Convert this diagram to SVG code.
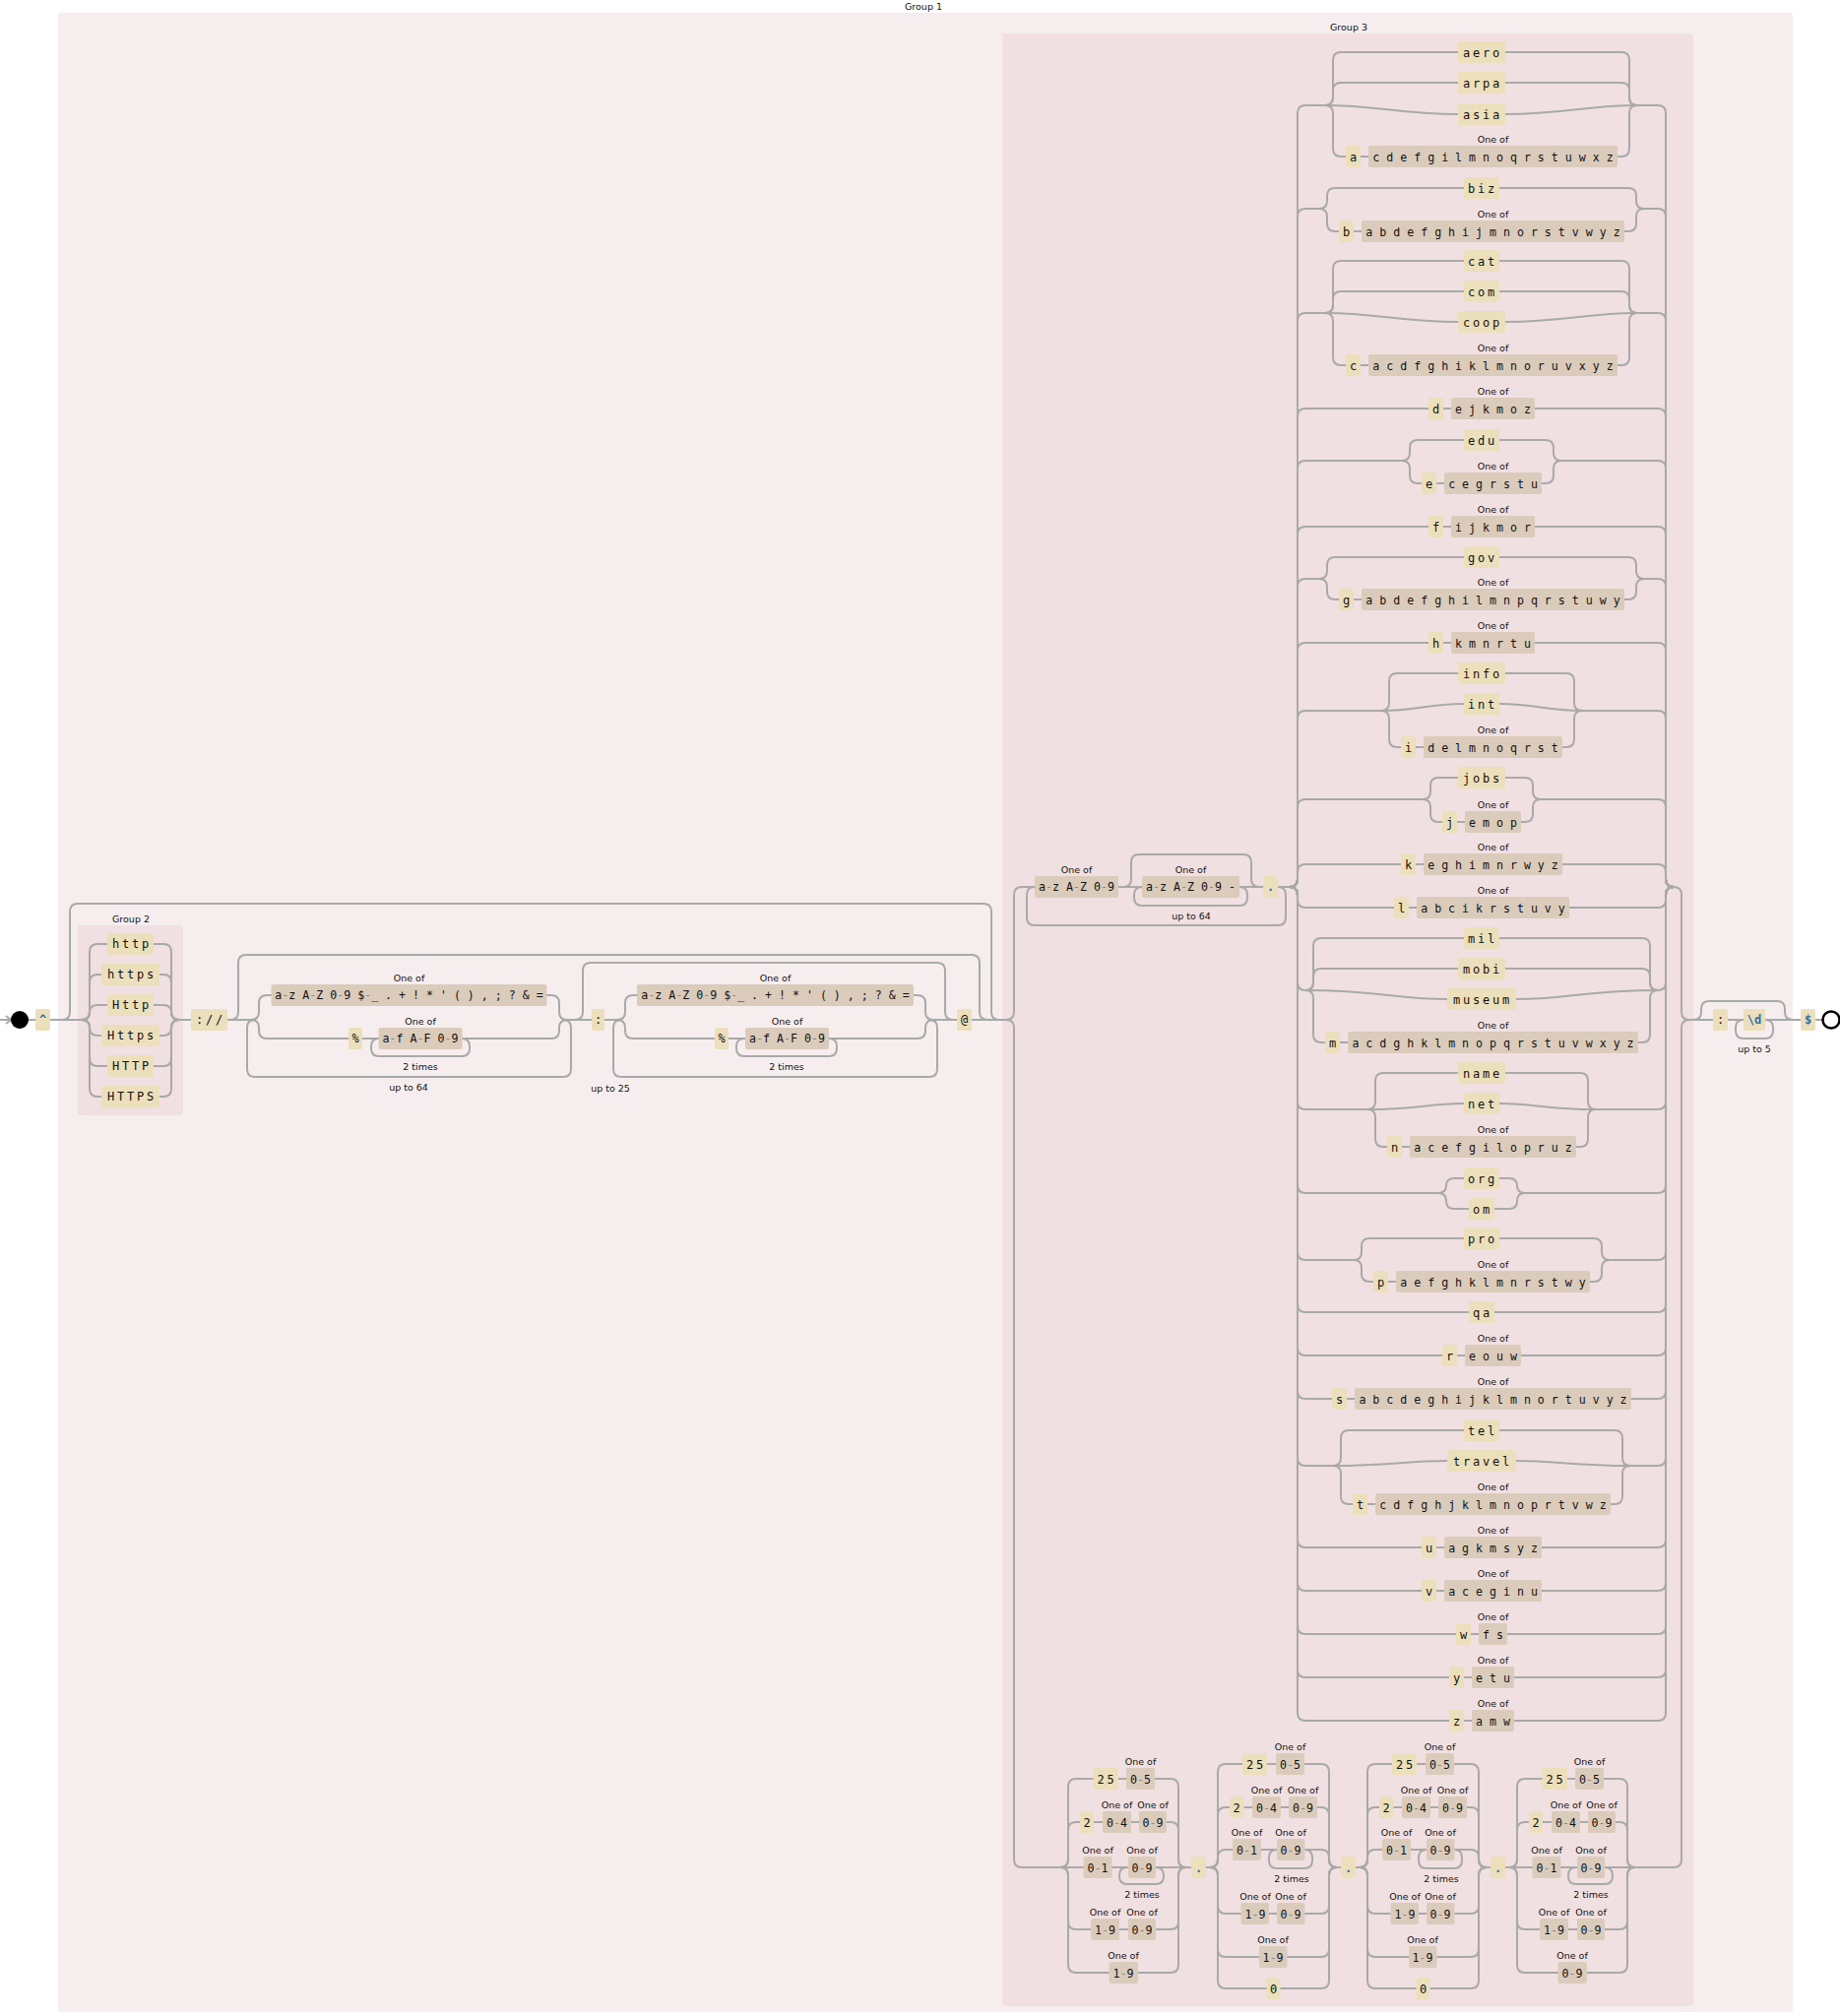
<svg xmlns="http://www.w3.org/2000/svg" width="1869" height="2048" viewBox="0 0 1869 2048">
<style>
.w{fill:none;stroke:#a9a9a9;stroke-width:2}
.L{fill:#ecdfbb}
.C{fill:#dbcbbb}
text{font-family:"DejaVu Sans Mono","Liberation Mono",monospace;font-size:12px;fill:#111;text-anchor:middle}
.tl{letter-spacing:2.8px}
.tc{font-size:11.6px}
.h{fill:#888}
.b{fill:#2b6ea8;font-weight:bold}
.lb{font-family:"DejaVu Sans","Liberation Sans",sans-serif;font-size:9.5px}
</style>
<g id="panels">
<rect x="59" y="13" width="1762" height="2031" rx="3" fill="#f6eeee"/>
<text class="lb" x="938" y="10">Group 1</text>
<rect x="79" y="940" width="107" height="193" rx="3" fill="#f1e0e1"/>
<text class="lb" x="133" y="937">Group 2</text>
<rect x="1018" y="34" width="702" height="2004" rx="3" fill="#f1e0e1"/>
<text class="lb" x="1370" y="31">Group 3</text>
</g>
<g id="connectors" class="w">
<path d="M0 1036H11M6 1032L11 1036L6 1040"/>
<path d="M29 1036H36M51 1036H83M51 1036H63Q71 1036 71 1028V926Q71 918 79 918H999Q1007 918 1007 926V1028Q1007 1036 1015 1036H1022"/>
<path d="M83 1036Q91 1036 91 1028V967Q91 959 99 959H166Q174 959 174 967V1028Q174 1036 182 1036"/>
<path d="M83 1036Q91 1036 91 1028V998Q91 990 99 990H166Q174 990 174 998V1028Q174 1036 182 1036"/>
<path d="M83 1036Q91 1036 91 1028.5Q91 1021 99 1021H166Q174 1021 174 1028.5Q174 1036 182 1036"/>
<path d="M83 1036Q91 1036 91 1043.5Q91 1052 99 1052H166Q174 1052 174 1043.5Q174 1036 182 1036"/>
<path d="M83 1036Q91 1036 91 1044V1075Q91 1083 99 1083H166Q174 1083 174 1075V1044Q174 1036 182 1036"/>
<path d="M83 1036Q91 1036 91 1044V1106Q91 1114 99 1114H166Q174 1114 174 1106V1044Q174 1036 182 1036"/>
<path d="M182 1036H194M231 1036H255M231 1036H234Q242 1036 242 1028V978Q242 970 250 970H987Q995 970 995 978V1028Q995 1036 1003 1036"/>
<path d="M572 1036Q580 1036 580 1044V1086Q580 1094 572 1094H259Q251 1094 251 1086V1044Q251 1036 259 1036"/>
<path d="M255 1036Q263 1036 263 1028V1019Q263 1011 271 1011H560Q568 1011 568 1019V1028Q568 1036 576 1036"/>
<path d="M255 1036Q263 1036 263 1044V1047Q263 1055 271 1055H560Q568 1055 568 1047V1044Q568 1036 576 1036"/>
<path d="M469 1055Q477 1055 477 1063V1065Q477 1073 469 1073H385Q377 1073 377 1065V1063Q377 1055 385 1055"/>
<path d="M576 1036H601M576 1036H584Q592 1036 592 1028V986Q592 978 600 978H952Q960 978 960 986V1028Q960 1036 968 1036"/>
<path d="M614 1036H627M944 1036Q952 1036 952 1044V1086Q952 1094 944 1094H631Q623 1094 623 1086V1044Q623 1036 631 1036"/>
<path d="M627 1036Q635 1036 635 1028V1019Q635 1011 643 1011H932Q940 1011 940 1019V1028Q940 1036 948 1036"/>
<path d="M627 1036Q635 1036 635 1044V1047Q635 1055 643 1055H932Q940 1055 940 1047V1044Q940 1036 948 1036"/>
<path d="M842 1055Q850 1055 850 1063V1065Q850 1073 842 1073H756Q748 1073 748 1065V1063Q748 1055 756 1055"/>
<path d="M948 1036H972M987 1036H1022"/>
<path d="M1022 1036Q1030 1036 1030 1028V909Q1030 901 1038 901H1051M1136 901H1160M1259 901H1283M1298 901H1310"/>
<path d="M1141 901Q1149 901 1149 893V876Q1149 868 1157 868H1263Q1271 868 1271 876V893Q1271 901 1279 901"/>
<path d="M1259 901Q1267 901 1267 909V912Q1267 920 1259 920H1160Q1152 920 1152 912V909Q1152 901 1160 901"/>
<path d="M1298 901Q1306 901 1306 909V932Q1306 940 1298 940H1051Q1043 940 1043 932V909Q1043 901 1051 901"/>
<path d="M1700 901Q1708 901 1708 909V1028Q1708 1036 1716 1036"/>
<path d="M1022 1036Q1030 1036 1030 1044V1889Q1030 1897 1038 1897H1077"/>
<path d="M1661 1897H1700Q1708 1897 1708 1889V1044Q1708 1036 1716 1036"/>
<path d="M1716 1036H1740M1755 1036H1771M1793 1036H1829M1844 1036H1851"/>
<path d="M1720 1036Q1728 1036 1728 1028V1025Q1728 1017 1736 1017H1805Q1813 1017 1813 1025V1028Q1813 1036 1821 1036"/>
<path d="M1793 1036Q1801 1036 1801 1044V1047Q1801 1055 1793 1055H1771Q1763 1055 1763 1047V1044Q1763 1036 1771 1036"/>
<!-- TLD main rails -->
<path d="M1310 901Q1318 901 1318 893V115Q1318 107 1326 107H1346M1663 107H1684Q1692 107 1692 115V893Q1692 901 1700 901"/>
<path d="M1310 901Q1318 901 1318 893V220Q1318 212 1326 212H1340M1670 212H1684Q1692 212 1692 220V893Q1692 901 1700 901"/>
<path d="M1310 901Q1318 901 1318 893V326Q1318 318 1326 318H1346M1663 318H1684Q1692 318 1692 326V893Q1692 901 1700 901"/>
<path d="M1310 901Q1318 901 1318 893V423Q1318 415 1326 415H1684Q1692 415 1692 423V893Q1692 901 1700 901"/>
<path d="M1310 901Q1318 901 1318 893V476Q1318 468 1326 468H1424M1586 468H1684Q1692 468 1692 476V893Q1692 901 1700 901"/>
<path d="M1310 901Q1318 901 1318 893V543Q1318 535 1326 535H1684Q1692 535 1692 543V893Q1692 901 1700 901"/>
<path d="M1310 901Q1318 901 1318 893V596Q1318 588 1326 588H1340M1670 588H1684Q1692 588 1692 596V893Q1692 901 1700 901"/>
<path d="M1310 901Q1318 901 1318 893V661Q1318 653 1326 653H1684Q1692 653 1692 661V893Q1692 901 1700 901"/>
<path d="M1310 901Q1318 901 1318 893V730Q1318 722 1326 722H1403M1607 722H1684Q1692 722 1692 730V893Q1692 901 1700 901"/>
<path d="M1310 901Q1318 901 1318 893V820Q1318 812 1326 812H1445M1565 812H1684Q1692 812 1692 820V893Q1692 901 1700 901"/>
<path d="M1310 901Q1318 901 1318 893V886Q1318 878 1326 878H1684Q1692 878 1692 886V893Q1692 901 1700 901"/>
<path d="M1310 901Q1318 901 1318 909V914Q1318 922 1326 922H1684Q1692 922 1692 914V909Q1692 901 1700 901"/>
<path d="M1310 901Q1318 901 1318 909V998Q1318 1006 1326 1006M1684 1006Q1692 1006 1692 998V909Q1692 901 1700 901"/>
<path d="M1310 901Q1318 901 1318 909V1119Q1318 1127 1326 1127H1389M1621 1127H1684Q1692 1127 1692 1119V909Q1692 901 1700 901"/>
<path d="M1310 901Q1318 901 1318 909V1204Q1318 1212 1326 1212H1461M1549 1212H1684Q1692 1212 1692 1204V909Q1692 901 1700 901"/>
<path d="M1310 901Q1318 901 1318 909V1272Q1318 1280 1326 1280H1375M1635 1280H1684Q1692 1280 1692 1272V909Q1692 901 1700 901"/>
<path d="M1310 901Q1318 901 1318 909V1325Q1318 1333 1326 1333H1684Q1692 1333 1692 1325V909Q1692 901 1700 901"/>
<path d="M1310 901Q1318 901 1318 909V1369Q1318 1377 1326 1377H1684Q1692 1377 1692 1369V909Q1692 901 1700 901"/>
<path d="M1310 901Q1318 901 1318 909V1413Q1318 1421 1326 1421H1684Q1692 1421 1692 1413V909Q1692 901 1700 901"/>
<path d="M1310 901Q1318 901 1318 909V1481Q1318 1489 1326 1489H1354M1656 1489H1684Q1692 1489 1692 1481V909Q1692 901 1700 901"/>
<path d="M1310 901Q1318 901 1318 909V1564Q1318 1572 1326 1572H1684Q1692 1572 1692 1564V909Q1692 901 1700 901"/>
<path d="M1310 901Q1318 901 1318 909V1608Q1318 1616 1326 1616H1684Q1692 1616 1692 1608V909Q1692 901 1700 901"/>
<path d="M1310 901Q1318 901 1318 909V1652Q1318 1660 1326 1660H1684Q1692 1660 1692 1652V909Q1692 901 1700 901"/>
<path d="M1310 901Q1318 901 1318 909V1696Q1318 1704 1326 1704H1684Q1692 1704 1692 1696V909Q1692 901 1700 901"/>
<path d="M1310 901Q1318 901 1318 909V1740Q1318 1748 1326 1748H1684Q1692 1748 1692 1740V909Q1692 901 1700 901"/>
<!-- TLD sub groups -->
<path d="M1346 107Q1354 107 1354 99V61Q1354 53 1362 53H1647Q1655 53 1655 61V99Q1655 107 1663 107"/>
<path d="M1346 107Q1354 107 1354 99V92Q1354 84 1362 84H1647Q1655 84 1655 92V99Q1655 107 1663 107"/>
<path d="M1346 107C1400 107 1420 116 1481 116H1529C1590 116 1610 107 1663 107"/>
<path d="M1346 107Q1354 107 1354 115V151Q1354 159 1362 159H1647Q1655 159 1655 151V115Q1655 107 1663 107"/>
<path d="M1340 212Q1348 212 1348 204V199Q1348 191 1356 191H1654Q1662 191 1662 199V204Q1662 212 1670 212"/>
<path d="M1340 212Q1348 212 1348 220V227Q1348 235 1356 235H1654Q1662 235 1662 227V220Q1662 212 1670 212"/>
<path d="M1346 318Q1354 318 1354 310V273Q1354 265 1362 265H1647Q1655 265 1655 273V310Q1655 318 1663 318"/>
<path d="M1346 318Q1354 318 1354 310V304Q1354 296 1362 296H1647Q1655 296 1655 304V310Q1655 318 1663 318"/>
<path d="M1346 318C1400 318 1420 327 1481 327H1529C1590 327 1610 318 1663 318"/>
<path d="M1346 318Q1354 318 1354 326V363Q1354 371 1362 371H1647Q1655 371 1655 363V326Q1655 318 1663 318"/>
<path d="M1424 468Q1432 468 1432 460V455Q1432 447 1440 447H1570Q1578 447 1578 455V460Q1578 468 1586 468"/>
<path d="M1424 468Q1432 468 1432 476V483Q1432 491 1440 491H1570Q1578 491 1578 483V476Q1578 468 1586 468"/>
<path d="M1340 588Q1348 588 1348 580V574Q1348 566 1356 566H1654Q1662 566 1662 574V580Q1662 588 1670 588"/>
<path d="M1340 588Q1348 588 1348 596V601Q1348 609 1356 609H1654Q1662 609 1662 601V596Q1662 588 1670 588"/>
<path d="M1403 722Q1411 722 1411 714V692Q1411 684 1419 684H1591Q1599 684 1599 692V714Q1599 722 1607 722"/>
<path d="M1403 722C1440 722 1450 715 1487 715H1523C1560 715 1570 722 1607 722"/>
<path d="M1403 722Q1411 722 1411 730V751Q1411 759 1419 759H1591Q1599 759 1599 751V730Q1599 722 1607 722"/>
<path d="M1445 812Q1453 812 1453 804V798Q1453 790 1461 790H1549Q1557 790 1557 798V804Q1557 812 1565 812"/>
<path d="M1445 812Q1453 812 1453 820V827Q1453 835 1461 835H1549Q1557 835 1557 827V820Q1557 812 1565 812"/>
<path d="M1326 1006Q1334 1006 1334 998V961Q1334 953 1342 953H1668Q1676 953 1676 961V998Q1676 1006 1684 1006"/>
<path d="M1326 1006Q1334 1006 1334 998V992Q1334 984 1342 984H1668Q1676 984 1676 992V998Q1676 1006 1684 1006"/>
<path d="M1326 1006C1400 1006 1420 1015 1470 1015H1540C1590 1015 1610 1006 1684 1006"/>
<path d="M1326 1006Q1334 1006 1334 1014V1051Q1334 1059 1342 1059H1668Q1676 1059 1676 1051V1014Q1676 1006 1684 1006"/>
<path d="M1389 1127Q1397 1127 1397 1119V1098Q1397 1090 1405 1090H1605Q1613 1090 1613 1098V1119Q1613 1127 1621 1127"/>
<path d="M1389 1127C1440 1127 1450 1121 1487 1121H1523C1560 1121 1570 1127 1621 1127"/>
<path d="M1389 1127Q1397 1127 1397 1135V1157Q1397 1165 1405 1165H1605Q1613 1165 1613 1157V1135Q1613 1127 1621 1127"/>
<path d="M1461 1212Q1469 1212 1469 1204.5Q1469 1197 1477 1197H1533Q1541 1197 1541 1204.5Q1541 1212 1549 1212"/>
<path d="M1461 1212Q1469 1212 1469 1220Q1469 1228 1477 1228H1533Q1541 1228 1541 1220Q1541 1212 1549 1212"/>
<path d="M1375 1280Q1383 1280 1383 1272V1266Q1383 1258 1391 1258H1619Q1627 1258 1627 1266V1272Q1627 1280 1635 1280"/>
<path d="M1375 1280Q1383 1280 1383 1288V1294Q1383 1302 1391 1302H1619Q1627 1302 1627 1294V1288Q1627 1280 1635 1280"/>
<path d="M1354 1489Q1362 1489 1362 1481V1461Q1362 1453 1370 1453H1640Q1648 1453 1648 1461V1481Q1648 1489 1656 1489"/>
<path d="M1354 1489C1410 1489 1430 1484 1470 1484H1540C1580 1484 1600 1489 1656 1489"/>
<path d="M1354 1489Q1362 1489 1362 1497V1520Q1362 1528 1370 1528H1640Q1648 1528 1648 1520V1497Q1648 1489 1656 1489"/>
<!-- IP -->
<g id="oc1w">
<path d="M1077 1897Q1085 1897 1085 1889V1815Q1085 1807 1093 1807H1189Q1197 1807 1197 1815V1889Q1197 1897 1205 1897"/>
<path d="M1077 1897Q1085 1897 1085 1889V1859Q1085 1851 1093 1851H1189Q1197 1851 1197 1859V1889Q1197 1897 1205 1897"/>
<path d="M1077 1897H1205"/>
<path d="M1174 1897Q1182 1897 1182 1905V1906Q1182 1914 1174 1914H1145Q1137 1914 1137 1906V1905Q1137 1897 1145 1897"/>
<path d="M1077 1897Q1085 1897 1085 1905V1952Q1085 1960 1093 1960H1189Q1197 1960 1197 1952V1905Q1197 1897 1205 1897"/>
<path d="M1077 1897Q1085 1897 1085 1905V1996Q1085 2004 1093 2004H1189Q1197 2004 1197 1996V1905Q1197 1897 1205 1897"/>
</g>
<use href="#oc1w" transform="translate(456 0)"/>
<g id="oc2w">
<path d="M1229 1897Q1237 1897 1237 1889V1800Q1237 1792 1245 1792H1342Q1350 1792 1350 1800V1889Q1350 1897 1358 1897"/>
<path d="M1229 1897Q1237 1897 1237 1889V1844Q1237 1836 1245 1836H1342Q1350 1836 1350 1844V1889Q1350 1897 1358 1897"/>
<path d="M1229 1897Q1237 1897 1237 1889V1887Q1237 1879 1245 1879H1342Q1350 1879 1350 1887V1889Q1350 1897 1358 1897"/>
<path d="M1325 1879Q1333 1879 1333 1887V1890Q1333 1898 1325 1898H1297Q1289 1898 1289 1890V1887Q1289 1879 1297 1879"/>
<path d="M1229 1897Q1237 1897 1237 1905V1936Q1237 1944 1245 1944H1342Q1350 1944 1350 1936V1905Q1350 1897 1358 1897"/>
<path d="M1229 1897Q1237 1897 1237 1905V1980Q1237 1988 1245 1988H1342Q1350 1988 1350 1980V1905Q1350 1897 1358 1897"/>
<path d="M1229 1897Q1237 1897 1237 1905V2012Q1237 2020 1245 2020H1342Q1350 2020 1350 2012V1905Q1350 1897 1358 1897"/>
</g>
<use href="#oc2w" transform="translate(152 0)"/>
<path d="M1205 1897H1210M1225 1897H1229M1358 1897H1362M1377 1897H1381M1510 1897H1514M1529 1897H1533"/>
</g>
<g id="start"><circle cx="20" cy="1036" r="9" fill="#000"/></g>
<g id="end"><circle cx="1860" cy="1036" r="8.5" fill="#fff" stroke="#000" stroke-width="2.5"/></g>
<g id="caret"><rect class="L" x="36" y="1025" width="15" height="22" rx="2"/><text class="b" x="43.5" y="1040">^</text></g>
<g id="g2">
<rect class="L" x="109" y="948" width="47" height="22" rx="2"/><text class="tl" x="134" y="963">http</text>
<rect class="L" x="103" y="979" width="59" height="22" rx="2"/><text class="tl" x="134" y="994">https</text>
<rect class="L" x="109" y="1010" width="47" height="22" rx="2"/><text class="tl" x="134" y="1025">Http</text>
<rect class="L" x="103" y="1041" width="59" height="22" rx="2"/><text class="tl" x="134" y="1056">Https</text>
<rect class="L" x="109" y="1072" width="47" height="22" rx="2"/><text class="tl" x="134" y="1087">HTTP</text>
<rect class="L" x="103" y="1103" width="59" height="22" rx="2"/><text class="tl" x="134" y="1118">HTTPS</text>
</g>
<g id="slashes"><rect class="L" x="194" y="1025" width="37" height="22" rx="2"/><text class="tl" x="214" y="1040">://</text></g>
<g id="user">
<text class="lb" x="415.5" y="997">One of</text>
<rect class="C" x="275.5" y="1000" width="280" height="22" rx="2"/><text class="tc" x="415.5" y="1015">a<tspan class="h">-</tspan>z A<tspan class="h">-</tspan>Z 0<tspan class="h">-</tspan>9 $<tspan class="h">-</tspan>_ . + ! * ' ( ) , ; ? &amp; =</text>
<rect class="L" x="354" y="1044" width="14" height="22" rx="2"/><text x="361" y="1059">%</text>
<text class="lb" x="427" y="1041">One of</text>
<rect class="C" x="384.6" y="1044" width="85" height="22" rx="2"/><text class="tc" x="427" y="1059">a<tspan class="h">-</tspan>f A<tspan class="h">-</tspan>F 0<tspan class="h">-</tspan>9</text>
<text class="lb" x="427" y="1087">2 times</text>
<text class="lb" x="415" y="1108">up to 64</text>
</g>
<g id="colon"><rect class="L" x="601" y="1025" width="13" height="22" rx="2"/><text x="607.5" y="1040">:</text></g>
<g id="pass">
<text class="lb" x="787.5" y="997">One of</text>
<rect class="C" x="647" y="1000" width="281" height="22" rx="2"/><text class="tc" x="787.5" y="1015">a<tspan class="h">-</tspan>z A<tspan class="h">-</tspan>Z 0<tspan class="h">-</tspan>9 $<tspan class="h">-</tspan>_ . + ! * ' ( ) , ; ? &amp; =</text>
<rect class="L" x="726" y="1044" width="14" height="22" rx="2"/><text x="733" y="1059">%</text>
<text class="lb" x="799.5" y="1041">One of</text>
<rect class="C" x="757" y="1044" width="85" height="22" rx="2"/><text class="tc" x="799.5" y="1059">a<tspan class="h">-</tspan>f A<tspan class="h">-</tspan>F 0<tspan class="h">-</tspan>9</text>
<text class="lb" x="799" y="1087">2 times</text>
<text class="lb" x="620" y="1109">up to 25</text>
</g>
<g id="at"><rect class="L" x="972" y="1025" width="15" height="22" rx="2"/><text x="979.5" y="1040">@</text></g>
<g id="domain">
<text class="lb" x="1093.5" y="887">One of</text>
<rect class="C" x="1051" y="890" width="85" height="22" rx="2"/><text class="tc" x="1093.5" y="905">a<tspan class="h">-</tspan>z A<tspan class="h">-</tspan>Z 0<tspan class="h">-</tspan>9</text>
<text class="lb" x="1209.5" y="887">One of</text>
<rect class="C" x="1160" y="890" width="99" height="22" rx="2"/><text class="tc" x="1209.5" y="905">a<tspan class="h">-</tspan>z A<tspan class="h">-</tspan>Z 0<tspan class="h">-</tspan>9 -</text>
<text class="lb" x="1210" y="934">up to 64</text>
<rect class="L" x="1283" y="890" width="15" height="22" rx="2"/><text class="b" x="1290.5" y="905">.</text>
</g>
<g id="tld">
<rect class="L" x="1481" y="42" width="48" height="22" rx="2"/><text class="tl" x="1506" y="57.5">aero</text>
<rect class="L" x="1481" y="73" width="48" height="22" rx="2"/><text class="tl" x="1506" y="88.5">arpa</text>
<rect class="L" x="1481" y="105" width="48" height="22" rx="2"/><text class="tl" x="1506" y="120.5">asia</text>
<rect class="L" x="1367" y="148" width="15" height="22" rx="2"/><text x="1374.5" y="163.5">a</text>
<text class="lb" x="1516.5" y="145">One of</text><rect class="C" x="1390" y="148" width="253" height="22" rx="2"/><text class="tc" x="1516.5" y="163.5">c d e f g i l m n o q r s t u w x z</text>
<rect class="L" x="1487" y="180" width="36" height="22" rx="2"/><text class="tl" x="1506" y="195.5">biz</text>
<rect class="L" x="1360" y="224" width="15" height="22" rx="2"/><text x="1367.5" y="239.5">b</text>
<text class="lb" x="1516.5" y="221">One of</text><rect class="C" x="1383" y="224" width="267" height="22" rx="2"/><text class="tc" x="1516.5" y="239.5">a b d e f g h i j m n o r s t v w y z</text>
<rect class="L" x="1487" y="254" width="36" height="22" rx="2"/><text class="tl" x="1506" y="269.5">cat</text>
<rect class="L" x="1487" y="285" width="36" height="22" rx="2"/><text class="tl" x="1506" y="300.5">com</text>
<rect class="L" x="1481" y="316" width="48" height="22" rx="2"/><text class="tl" x="1506" y="331.5">coop</text>
<rect class="L" x="1367" y="360" width="15" height="22" rx="2"/><text x="1374.5" y="375.5">c</text>
<text class="lb" x="1516.5" y="357">One of</text><rect class="C" x="1390" y="360" width="253" height="22" rx="2"/><text class="tc" x="1516.5" y="375.5">a c d f g h i k l m n o r u v x y z</text>
<rect class="L" x="1451" y="404" width="15" height="22" rx="2"/><text x="1458.5" y="419.5">d</text>
<text class="lb" x="1516.5" y="401">One of</text><rect class="C" x="1474" y="404" width="85" height="22" rx="2"/><text class="tc" x="1516.5" y="419.5">e j k m o z</text>
<rect class="L" x="1487" y="436" width="36" height="22" rx="2"/><text class="tl" x="1506" y="451.5">edu</text>
<rect class="L" x="1444" y="480" width="15" height="22" rx="2"/><text x="1451.5" y="495.5">e</text>
<text class="lb" x="1516.5" y="477">One of</text><rect class="C" x="1467" y="480" width="99" height="22" rx="2"/><text class="tc" x="1516.5" y="495.5">c e g r s t u</text>
<rect class="L" x="1451" y="524" width="15" height="22" rx="2"/><text x="1458.5" y="539.5">f</text>
<text class="lb" x="1516.5" y="521">One of</text><rect class="C" x="1474" y="524" width="85" height="22" rx="2"/><text class="tc" x="1516.5" y="539.5">i j k m o r</text>
<rect class="L" x="1487" y="555" width="36" height="22" rx="2"/><text class="tl" x="1506" y="570.5">gov</text>
<rect class="L" x="1360" y="598" width="15" height="22" rx="2"/><text x="1367.5" y="613.5">g</text>
<text class="lb" x="1516.5" y="595">One of</text><rect class="C" x="1383" y="598" width="267" height="22" rx="2"/><text class="tc" x="1516.5" y="613.5">a b d e f g h i l m n p q r s t u w y</text>
<rect class="L" x="1451" y="642" width="15" height="22" rx="2"/><text x="1458.5" y="657.5">h</text>
<text class="lb" x="1516.5" y="639">One of</text><rect class="C" x="1474" y="642" width="85" height="22" rx="2"/><text class="tc" x="1516.5" y="657.5">k m n r t u</text>
<rect class="L" x="1481" y="673" width="48" height="22" rx="2"/><text class="tl" x="1506" y="688.5">info</text>
<rect class="L" x="1487" y="704" width="36" height="22" rx="2"/><text class="tl" x="1506" y="719.5">int</text>
<rect class="L" x="1423" y="748" width="15" height="22" rx="2"/><text x="1430.5" y="763.5">i</text>
<text class="lb" x="1516.5" y="745">One of</text><rect class="C" x="1446" y="748" width="141" height="22" rx="2"/><text class="tc" x="1516.5" y="763.5">d e l m n o q r s t</text>
<rect class="L" x="1481" y="779" width="48" height="22" rx="2"/><text class="tl" x="1506" y="794.5">jobs</text>
<rect class="L" x="1465" y="824" width="15" height="22" rx="2"/><text x="1472.5" y="839.5">j</text>
<text class="lb" x="1516.5" y="821">One of</text><rect class="C" x="1488" y="824" width="57" height="22" rx="2"/><text class="tc" x="1516.5" y="839.5">e m o p</text>
<rect class="L" x="1423" y="867" width="15" height="22" rx="2"/><text x="1430.5" y="882.5">k</text>
<text class="lb" x="1516.5" y="864">One of</text><rect class="C" x="1446" y="867" width="141" height="22" rx="2"/><text class="tc" x="1516.5" y="882.5">e g h i m n r w y z</text>
<rect class="L" x="1416" y="911" width="15" height="22" rx="2"/><text x="1423.5" y="926.5">l</text>
<text class="lb" x="1516.5" y="908">One of</text><rect class="C" x="1439" y="911" width="155" height="22" rx="2"/><text class="tc" x="1516.5" y="926.5">a b c i k r s t u v y</text>
<rect class="L" x="1487" y="942" width="36" height="22" rx="2"/><text class="tl" x="1506" y="957.5">mil</text>
<rect class="L" x="1481" y="973" width="48" height="22" rx="2"/><text class="tl" x="1506" y="988.5">mobi</text>
<rect class="L" x="1470" y="1004" width="70" height="22" rx="2"/><text class="tl" x="1506" y="1019.5">museum</text>
<rect class="L" x="1346" y="1048" width="15" height="22" rx="2"/><text x="1353.5" y="1063.5">m</text>
<text class="lb" x="1516.5" y="1045">One of</text><rect class="C" x="1369" y="1048" width="295" height="22" rx="2"/><text class="tc" x="1516.5" y="1063.5">a c d g h k l m n o p q r s t u v w x y z</text>
<rect class="L" x="1481" y="1079" width="48" height="22" rx="2"/><text class="tl" x="1506" y="1094.5">name</text>
<rect class="L" x="1487" y="1110" width="36" height="22" rx="2"/><text class="tl" x="1506" y="1125.5">net</text>
<rect class="L" x="1409" y="1154" width="15" height="22" rx="2"/><text x="1416.5" y="1169.5">n</text>
<text class="lb" x="1516.5" y="1151">One of</text><rect class="C" x="1432" y="1154" width="169" height="22" rx="2"/><text class="tc" x="1516.5" y="1169.5">a c e f g i l o p r u z</text>
<rect class="L" x="1487" y="1186" width="36" height="22" rx="2"/><text class="tl" x="1506" y="1201.5">org</text>
<rect class="L" x="1492" y="1217" width="26" height="22" rx="2"/><text class="tl" x="1506" y="1232.5">om</text>
<rect class="L" x="1487" y="1247" width="36" height="22" rx="2"/><text class="tl" x="1506" y="1262.5">pro</text>
<rect class="L" x="1395" y="1291" width="15" height="22" rx="2"/><text x="1402.5" y="1306.5">p</text>
<text class="lb" x="1516.5" y="1288">One of</text><rect class="C" x="1418" y="1291" width="197" height="22" rx="2"/><text class="tc" x="1516.5" y="1306.5">a e f g h k l m n r s t w y</text>
<rect class="L" x="1492" y="1322" width="26" height="22" rx="2"/><text class="tl" x="1506" y="1337.5">qa</text>
<rect class="L" x="1465" y="1366" width="15" height="22" rx="2"/><text x="1472.5" y="1381.5">r</text>
<text class="lb" x="1516.5" y="1363">One of</text><rect class="C" x="1488" y="1366" width="57" height="22" rx="2"/><text class="tc" x="1516.5" y="1381.5">e o u w</text>
<rect class="L" x="1353" y="1410" width="15" height="22" rx="2"/><text x="1360.5" y="1425.5">s</text>
<text class="lb" x="1516.5" y="1407">One of</text><rect class="C" x="1376" y="1410" width="281" height="22" rx="2"/><text class="tc" x="1516.5" y="1425.5">a b c d e g h i j k l m n o r t u v y z</text>
<rect class="L" x="1487" y="1442" width="36" height="22" rx="2"/><text class="tl" x="1506" y="1457.5">tel</text>
<rect class="L" x="1470" y="1473" width="70" height="22" rx="2"/><text class="tl" x="1506" y="1488.5">travel</text>
<rect class="L" x="1374" y="1517" width="15" height="22" rx="2"/><text x="1381.5" y="1532.5">t</text>
<text class="lb" x="1516.5" y="1514">One of</text><rect class="C" x="1397" y="1517" width="239" height="22" rx="2"/><text class="tc" x="1516.5" y="1532.5">c d f g h j k l m n o p r t v w z</text>
<rect class="L" x="1444" y="1561" width="15" height="22" rx="2"/><text x="1451.5" y="1576.5">u</text>
<text class="lb" x="1516.5" y="1558">One of</text><rect class="C" x="1467" y="1561" width="99" height="22" rx="2"/><text class="tc" x="1516.5" y="1576.5">a g k m s y z</text>
<rect class="L" x="1444" y="1605" width="15" height="22" rx="2"/><text x="1451.5" y="1620.5">v</text>
<text class="lb" x="1516.5" y="1602">One of</text><rect class="C" x="1467" y="1605" width="99" height="22" rx="2"/><text class="tc" x="1516.5" y="1620.5">a c e g i n u</text>
<rect class="L" x="1479" y="1649" width="15" height="22" rx="2"/><text x="1486.5" y="1664.5">w</text>
<text class="lb" x="1516.5" y="1646">One of</text><rect class="C" x="1502" y="1649" width="29" height="22" rx="2"/><text class="tc" x="1516.5" y="1664.5">f s</text>
<rect class="L" x="1472" y="1693" width="15" height="22" rx="2"/><text x="1479.5" y="1708.5">y</text>
<text class="lb" x="1516.5" y="1690">One of</text><rect class="C" x="1495" y="1693" width="43" height="22" rx="2"/><text class="tc" x="1516.5" y="1708.5">e t u</text>
<rect class="L" x="1472" y="1737" width="15" height="22" rx="2"/><text x="1479.5" y="1752.5">z</text>
<text class="lb" x="1516.5" y="1734">One of</text><rect class="C" x="1495" y="1737" width="43" height="22" rx="2"/><text class="tc" x="1516.5" y="1752.5">a m w</text>
</g>
<g id="octet1">
<rect class="L" x="1110.5" y="1796" width="25.5" height="22" rx="2"/><text class="tl" x="1124.5" y="1811.5">25</text>
<text class="lb" x="1158.5" y="1793">One of</text><rect class="C" x="1144" y="1796" width="29" height="22" rx="2"/><text class="tc" x="1158.5" y="1811.5">0<tspan class="h">-</tspan>5</text>
<rect class="L" x="1097" y="1840" width="14" height="22" rx="2"/><text x="1104" y="1855.5">2</text>
<text class="lb" x="1134.5" y="1837">One of</text><rect class="C" x="1120" y="1840" width="29" height="22" rx="2"/><text class="tc" x="1134.5" y="1855.5">0<tspan class="h">-</tspan>4</text>
<text class="lb" x="1171" y="1837">One of</text><rect class="C" x="1157" y="1840" width="28" height="22" rx="2"/><text class="tc" x="1171" y="1855.5">0<tspan class="h">-</tspan>9</text>
<text class="lb" x="1115" y="1883">One of</text><rect class="C" x="1100.5" y="1886" width="29" height="22" rx="2"/><text class="tc" x="1115" y="1901.5">0<tspan class="h">-</tspan>1</text>
<text class="lb" x="1160" y="1883">One of</text><rect class="C" x="1146" y="1886" width="28" height="22" rx="2"/><text class="tc" x="1160" y="1901.5">0<tspan class="h">-</tspan>9</text>
<text class="lb" x="1160" y="1928">2 times</text>
<text class="lb" x="1122.5" y="1946">One of</text><rect class="C" x="1108" y="1949" width="29" height="22" rx="2"/><text class="tc" x="1122.5" y="1964.5">1<tspan class="h">-</tspan>9</text>
<text class="lb" x="1160" y="1946">One of</text><rect class="C" x="1146" y="1949" width="28" height="22" rx="2"/><text class="tc" x="1160" y="1964.5">0<tspan class="h">-</tspan>9</text>
<text class="lb" x="1141" y="1990">One of</text><rect class="C" x="1126.5" y="1993" width="29.5" height="22" rx="2"/><text class="tc" x="1141" y="2008.5">1<tspan class="h">-</tspan>9</text>
</g>
<g id="octet4" transform="translate(456 0)">
<rect class="L" x="1110.5" y="1796" width="25.5" height="22" rx="2"/><text class="tl" x="1124.5" y="1811.5">25</text>
<text class="lb" x="1158.5" y="1793">One of</text><rect class="C" x="1144" y="1796" width="29" height="22" rx="2"/><text class="tc" x="1158.5" y="1811.5">0<tspan class="h">-</tspan>5</text>
<rect class="L" x="1097" y="1840" width="14" height="22" rx="2"/><text x="1104" y="1855.5">2</text>
<text class="lb" x="1134.5" y="1837">One of</text><rect class="C" x="1120" y="1840" width="29" height="22" rx="2"/><text class="tc" x="1134.5" y="1855.5">0<tspan class="h">-</tspan>4</text>
<text class="lb" x="1171" y="1837">One of</text><rect class="C" x="1157" y="1840" width="28" height="22" rx="2"/><text class="tc" x="1171" y="1855.5">0<tspan class="h">-</tspan>9</text>
<text class="lb" x="1115" y="1883">One of</text><rect class="C" x="1100.5" y="1886" width="29" height="22" rx="2"/><text class="tc" x="1115" y="1901.5">0<tspan class="h">-</tspan>1</text>
<text class="lb" x="1160" y="1883">One of</text><rect class="C" x="1146" y="1886" width="28" height="22" rx="2"/><text class="tc" x="1160" y="1901.5">0<tspan class="h">-</tspan>9</text>
<text class="lb" x="1160" y="1928">2 times</text>
<text class="lb" x="1122.5" y="1946">One of</text><rect class="C" x="1108" y="1949" width="29" height="22" rx="2"/><text class="tc" x="1122.5" y="1964.5">1<tspan class="h">-</tspan>9</text>
<text class="lb" x="1160" y="1946">One of</text><rect class="C" x="1146" y="1949" width="28" height="22" rx="2"/><text class="tc" x="1160" y="1964.5">0<tspan class="h">-</tspan>9</text>
<text class="lb" x="1141" y="1990">One of</text><rect class="C" x="1126.5" y="1993" width="29.5" height="22" rx="2"/><text class="tc" x="1141" y="2008.5">0<tspan class="h">-</tspan>9</text>
</g>
<g id="octet2">
<rect class="L" x="1262" y="1781" width="25" height="22" rx="2"/><text class="tl" x="1276" y="1796.5">25</text>
<text class="lb" x="1310.5" y="1778">One of</text><rect class="C" x="1296" y="1781" width="29" height="22" rx="2"/><text class="tc" x="1310.5" y="1796.5">0<tspan class="h">-</tspan>5</text>
<rect class="L" x="1249" y="1825" width="14.5" height="22" rx="2"/><text x="1256" y="1840.5">2</text>
<text class="lb" x="1286.5" y="1822">One of</text><rect class="C" x="1272" y="1825" width="29" height="22" rx="2"/><text class="tc" x="1286.5" y="1840.5">0<tspan class="h">-</tspan>4</text>
<text class="lb" x="1323.5" y="1822">One of</text><rect class="C" x="1309" y="1825" width="29" height="22" rx="2"/><text class="tc" x="1323.5" y="1840.5">0<tspan class="h">-</tspan>9</text>
<text class="lb" x="1266.5" y="1865">One of</text><rect class="C" x="1252" y="1868" width="29" height="22" rx="2"/><text class="tc" x="1266.5" y="1883.5">0<tspan class="h">-</tspan>1</text>
<text class="lb" x="1311" y="1865">One of</text><rect class="C" x="1297" y="1868" width="28.5" height="22" rx="2"/><text class="tc" x="1311" y="1883.5">0<tspan class="h">-</tspan>9</text>
<text class="lb" x="1312" y="1912">2 times</text>
<text class="lb" x="1275" y="1930">One of</text><rect class="C" x="1260.5" y="1933" width="28.5" height="22" rx="2"/><text class="tc" x="1275" y="1948.5">1<tspan class="h">-</tspan>9</text>
<text class="lb" x="1311" y="1930">One of</text><rect class="C" x="1297" y="1933" width="28.5" height="22" rx="2"/><text class="tc" x="1311" y="1948.5">0<tspan class="h">-</tspan>9</text>
<text class="lb" x="1293" y="1974">One of</text><rect class="C" x="1279" y="1977" width="28.5" height="22" rx="2"/><text class="tc" x="1293" y="1992.5">1<tspan class="h">-</tspan>9</text>
<rect class="L" x="1286.5" y="2009" width="14" height="22" rx="2"/><text x="1293.5" y="2024.5">0</text>
</g>
<g id="octet3" transform="translate(152 0)">
<rect class="L" x="1262" y="1781" width="25" height="22" rx="2"/><text class="tl" x="1276" y="1796.5">25</text>
<text class="lb" x="1310.5" y="1778">One of</text><rect class="C" x="1296" y="1781" width="29" height="22" rx="2"/><text class="tc" x="1310.5" y="1796.5">0<tspan class="h">-</tspan>5</text>
<rect class="L" x="1249" y="1825" width="14.5" height="22" rx="2"/><text x="1256" y="1840.5">2</text>
<text class="lb" x="1286.5" y="1822">One of</text><rect class="C" x="1272" y="1825" width="29" height="22" rx="2"/><text class="tc" x="1286.5" y="1840.5">0<tspan class="h">-</tspan>4</text>
<text class="lb" x="1323.5" y="1822">One of</text><rect class="C" x="1309" y="1825" width="29" height="22" rx="2"/><text class="tc" x="1323.5" y="1840.5">0<tspan class="h">-</tspan>9</text>
<text class="lb" x="1266.5" y="1865">One of</text><rect class="C" x="1252" y="1868" width="29" height="22" rx="2"/><text class="tc" x="1266.5" y="1883.5">0<tspan class="h">-</tspan>1</text>
<text class="lb" x="1311" y="1865">One of</text><rect class="C" x="1297" y="1868" width="28.5" height="22" rx="2"/><text class="tc" x="1311" y="1883.5">0<tspan class="h">-</tspan>9</text>
<text class="lb" x="1312" y="1912">2 times</text>
<text class="lb" x="1275" y="1930">One of</text><rect class="C" x="1260.5" y="1933" width="28.5" height="22" rx="2"/><text class="tc" x="1275" y="1948.5">1<tspan class="h">-</tspan>9</text>
<text class="lb" x="1311" y="1930">One of</text><rect class="C" x="1297" y="1933" width="28.5" height="22" rx="2"/><text class="tc" x="1311" y="1948.5">0<tspan class="h">-</tspan>9</text>
<text class="lb" x="1293" y="1974">One of</text><rect class="C" x="1279" y="1977" width="28.5" height="22" rx="2"/><text class="tc" x="1293" y="1992.5">1<tspan class="h">-</tspan>9</text>
<rect class="L" x="1286.5" y="2009" width="14" height="22" rx="2"/><text x="1293.5" y="2024.5">0</text>
</g>
<g id="dots">
<rect class="L" x="1210" y="1886" width="15" height="22" rx="2"/><text class="b" x="1217.5" y="1901.5">.</text>
<rect class="L" x="1362" y="1886" width="15" height="22" rx="2"/><text class="b" x="1369.5" y="1901.5">.</text>
<rect class="L" x="1514" y="1886" width="15" height="22" rx="2"/><text class="b" x="1521.5" y="1901.5">.</text>
</g>
<g id="port">
<rect class="L" x="1740" y="1025" width="15" height="22" rx="2"/><text x="1747.5" y="1040">:</text>
<rect class="L" x="1771" y="1025" width="22" height="22" rx="2"/><text class="b" x="1782" y="1040">\d</text>
<text class="lb" x="1782" y="1069">up to 5</text>
</g>
<g id="dollar"><rect class="L" x="1829" y="1025" width="15" height="22" rx="2"/><text class="b" x="1836.5" y="1040">$</text></g>
</svg>
